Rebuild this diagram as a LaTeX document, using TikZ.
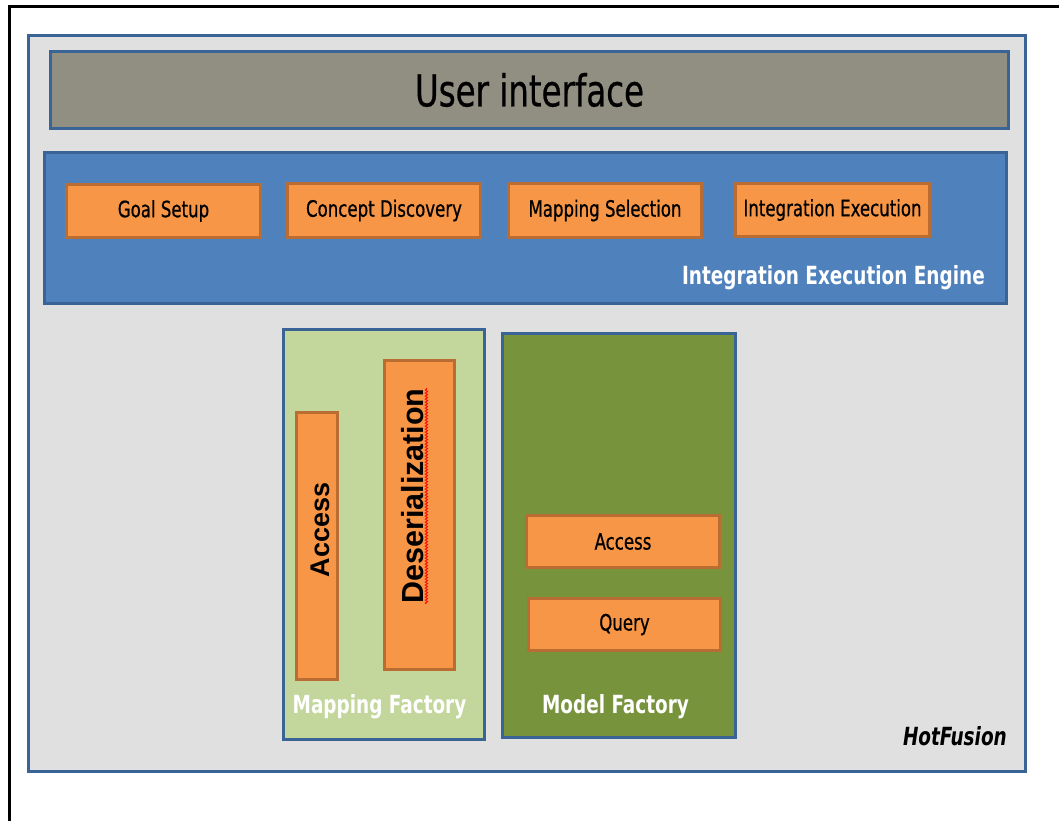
\documentclass[tikz,border=0pt]{standalone}
\usepackage{fontspec}
\usetikzlibrary{decorations.pathmorphing}
\newfontfamily\cf{DejaVu Sans Condensed}[FakeStretch=0.82]
\newfontfamily\cfm{DejaVu Sans Condensed}[FakeStretch=0.82, FakeBold=0.6]
\newfontfamily\af{Liberation Sans}
\definecolor{bordblue}{HTML}{3B6496}
\definecolor{outerfill}{HTML}{E0E0E0}
\definecolor{uigray}{HTML}{918F82}
\definecolor{ieeblue}{HTML}{4F81BD}
\definecolor{orfill}{HTML}{F79646}
\definecolor{ordraw}{HTML}{B96D32}
\definecolor{lightgreen}{HTML}{C3D69B}
\definecolor{darkgreen}{HTML}{77933C}
\tikzset{
  bluebox/.style={draw=bordblue, line width=3.2pt, rectangle, inner sep=0pt},
  orbox/.style={draw=ordraw, fill=orfill, line width=3pt, rectangle, inner sep=0pt,
     font=\cfm\fontsize{22.5}{25}\selectfont, text=black},
  vbox/.style={draw=ordraw, fill=orfill, line width=3pt, rectangle, inner sep=0pt},
  vtext/.style={rotate=90, inner sep=0pt, font=\af\bfseries\fontsize{27}{30}\selectfont},
  wlabel/.style={inner sep=0pt, text=white, font=\cf\bfseries\fontsize{25}{28}\selectfont},
}
\begin{document}
\begin{tikzpicture}[x=1pt,y=-1pt]
\useasboundingbox (0,0) rectangle (1059,821);
\fill[white] (0,0) rectangle (1059,821);
% frame lines
\draw[black, line width=3pt] (9.5,821) -- (9.5,7) -- (1059,7);
% outer HotFusion box
\node[bluebox, fill=outerfill, minimum width=997pt, minimum height=736pt] (hot) at (527,403.5) {};
\node[inner sep=0pt, anchor=base east, font=\cf\bfseries\itshape\fontsize{25}{28}\selectfont] (hotlbl) at (1007,745) {HotFusion};
% user interface
\node[bluebox, fill=uigray, minimum width=958pt, minimum height=77pt,
      font=\cfm\fontsize{44}{48}\selectfont] (ui) at (529.5,90) {User interface};
% integration execution engine
\node[bluebox, fill=ieeblue, minimum width=962pt, minimum height=151pt] (iee) at (525.5,228) {};
\node[wlabel, anchor=base east] (ieelbl) at (985,284) {Integration Execution Engine};
\node[orbox, minimum width=194pt, minimum height=53pt] (goal) at (163.5,211) {Goal Setup};
\node[orbox, minimum width=193pt, minimum height=54pt] (concept) at (384,210.5) {Concept Discovery};
\node[orbox, minimum width=193pt, minimum height=54pt] (mapsel) at (605,210.5) {Mapping Selection};
\node[orbox, minimum width=194pt, minimum height=53pt] (intexec) at (832.5,210) {Integration Execution};
% mapping factory
\node[bluebox, fill=lightgreen, minimum width=201pt, minimum height=410pt] (mapf) at (384,534.5) {};
\node[wlabel, anchor=base] (mapflbl) at (379.5,713) {Mapping Factory};
\node[vbox, minimum width=41pt, minimum height=267pt] (acc1) at (317,546) {};
\node[vtext] (acc1t) at (320,530) {Access};
\node[vbox, minimum width=70pt, minimum height=309pt] (deser) at (419.5,515) {};
\node[vtext, font=\af\bfseries\fontsize{30.5}{33}\selectfont] (desert) at (413,496) {Deserialization};
\draw[red, line width=0.8pt, decorate, decoration={zigzag, amplitude=1.2pt, segment length=3pt}]
   ([xshift=2pt]desert.south west) -- ([xshift=2pt]desert.south east);
% model factory
\node[bluebox, fill=darkgreen, minimum width=233pt, minimum height=404pt] (modf) at (619,535.5) {};
\node[wlabel, anchor=base] (modflbl) at (615.5,713) {Model Factory};
\node[orbox, minimum width=193pt, minimum height=52pt] (acc2) at (623,541.5) {Access};
\node[orbox, minimum width=192pt, minimum height=52pt] (query) at (624.5,624.5) {Query};
\end{tikzpicture}
\end{document}
